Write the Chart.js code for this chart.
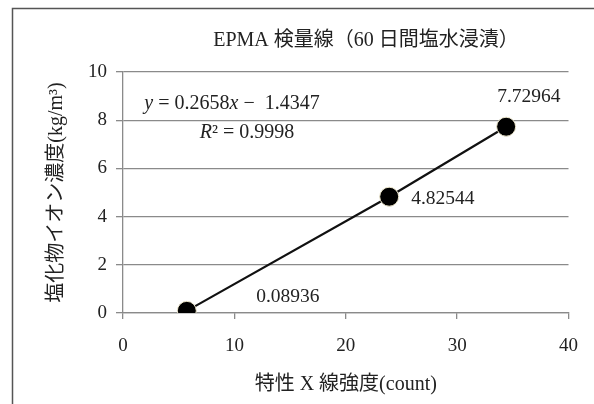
<!DOCTYPE html>
<html>
<head>
<meta charset="utf-8">
<script src="https://cdn.jsdelivr.net/npm/chart.js@4.4.1/dist/chart.umd.min.js"></script>
<style>
  html, body { margin: 0; padding: 0; background: #fff; }
</style>
</head>
<body>
<canvas id="chart" width="594" height="404"></canvas>
<script>
// values
const xCounts = [5.73, 23.9, 34.4];
const chlorideValues = [0.08936, 4.82544, 7.72964];
const pointLabels = ["0.08936", "4.82544", "7.72964"];
const xTicks = [0, 10, 20, 30, 40];
const yTicks = [0, 2, 4, 6, 8, 10];

const chartTitle = "EPMA 検量線（60 日間塩水浸漬）";
const xTitle = "特性 X 線強度(count)";
const yTitle = "塩化物イオン濃度(kg/m³)";
const slope = "0.2658";
const intercept = "1.4347";
const rSquared = "0.9998";

const FAMILY = '"Liberation Serif", "Noto Sans CJK JP", serif';
const TEXT = "#222";
const GRID = "#8a8a8a";

// label offsets from each point, in px
const labelOffsets = [[101, -14], [22, 2], [-9, -30]];
const labelAlign = ["center", "left", "left"];

function drawPieces(ctx, pieces, x, y) {
  // pieces: [text, italic]
  let total = 0;
  pieces.forEach(p => {
    ctx.font = (p[1] ? "italic " : "") + "20px " + FAMILY;
    total += ctx.measureText(p[0]).width;
  });
  let cx = x - total / 2;
  pieces.forEach(p => {
    ctx.font = (p[1] ? "italic " : "") + "20px " + FAMILY;
    ctx.fillText(p[0], cx, y);
    cx += ctx.measureText(p[0]).width;
  });
}

const framePlugin = {
  id: "frame",
  beforeDraw(chart) {
    const ctx = chart.ctx;
    ctx.save();
    ctx.fillStyle = "#fff";
    ctx.fillRect(0, 0, chart.width, chart.height);
    ctx.strokeStyle = "#555";
    ctx.lineWidth = 1.5;
    ctx.beginPath();
    ctx.moveTo(12.5, chart.height);
    ctx.lineTo(12.5, 8.5);
    ctx.lineTo(chart.width, 8.5);
    ctx.stroke();
    ctx.restore();
  },
  afterDraw(chart) {
    const ctx = chart.ctx;
    const area = chart.chartArea;
    ctx.save();
    ctx.fillStyle = TEXT;
    ctx.textBaseline = "middle";

    // title
    ctx.textAlign = "center";
    ctx.font = "20px " + FAMILY;
    ctx.fillText(chartTitle, 366, 41);

    // point value labels
    const meta = chart.getDatasetMeta(0);
    meta.data.forEach((pt, i) => {
      ctx.textAlign = labelAlign[i];
      ctx.font = "19.5px " + FAMILY;
      ctx.fillText(pointLabels[i], pt.x + labelOffsets[i][0], pt.y + labelOffsets[i][1]);
    });

    // trendline equation
    ctx.textAlign = "left";
    const ex = area.left + 109;
    drawPieces(ctx, [["y", true], [" = " + slope, false], ["x", true], [" \u2212  " + intercept, false]], ex, area.top + 32);
    drawPieces(ctx, [["R", true], ["\u00b2 = " + rSquared, false]], ex + 15, area.top + 61);
    ctx.restore();
  }
};

new Chart(document.getElementById("chart"), {
  type: "scatter",
  data: {
    datasets: [{
      data: xCounts.map((x, i) => ({ x: x, y: chlorideValues[i] })),
      showLine: true,
      borderColor: "#111",
      borderWidth: 2.2,
      pointRadius: 9.5,
      pointHoverRadius: 9.5,
      pointBackgroundColor: "#000",
      pointBorderColor: "#ece6cc",
      pointBorderWidth: 1
    }]
  },
  options: {
    responsive: false,
    animation: false,
    layout: { padding: { top: 72, right: 24, bottom: 0, left: 0 } },
    plugins: {
      legend: { display: false },
      tooltip: { enabled: false }
    },
    scales: {
      x: {
        type: "linear",
        min: 0,
        max: 40,
        afterBuildTicks: s => { s.ticks = xTicks.map(v => ({ value: v })); },
        afterFit: s => { s.height = 91; },
        grid: { drawOnChartArea: false, color: GRID, tickLength: 6, lineWidth: 1.3 },
        border: { color: GRID, width: 1.3 },
        ticks: { padding: 16, color: TEXT, font: { family: FAMILY, size: 19 } },
        title: {
          display: true,
          text: xTitle,
          color: TEXT,
          padding: { top: 0, bottom: 7 },
          font: { family: FAMILY, size: 20 }
        }
      },
      y: {
        type: "linear",
        min: 0,
        max: 10,
        afterBuildTicks: s => { s.ticks = yTicks.map(v => ({ value: v })); },
        afterFit: s => { s.width = 123; },
        grid: { color: GRID, tickLength: 7, lineWidth: 1.3 },
        border: { color: GRID, width: 1.3 },
        ticks: { padding: 9, color: TEXT, font: { family: FAMILY, size: 19 } },
        title: {
          display: true,
          text: yTitle,
          color: TEXT,
          padding: { top: 45, bottom: 0 },
          font: { family: FAMILY, size: 20 }
        }
      }
    }
  },
  plugins: [framePlugin]
});
</script>
</body>
</html>
